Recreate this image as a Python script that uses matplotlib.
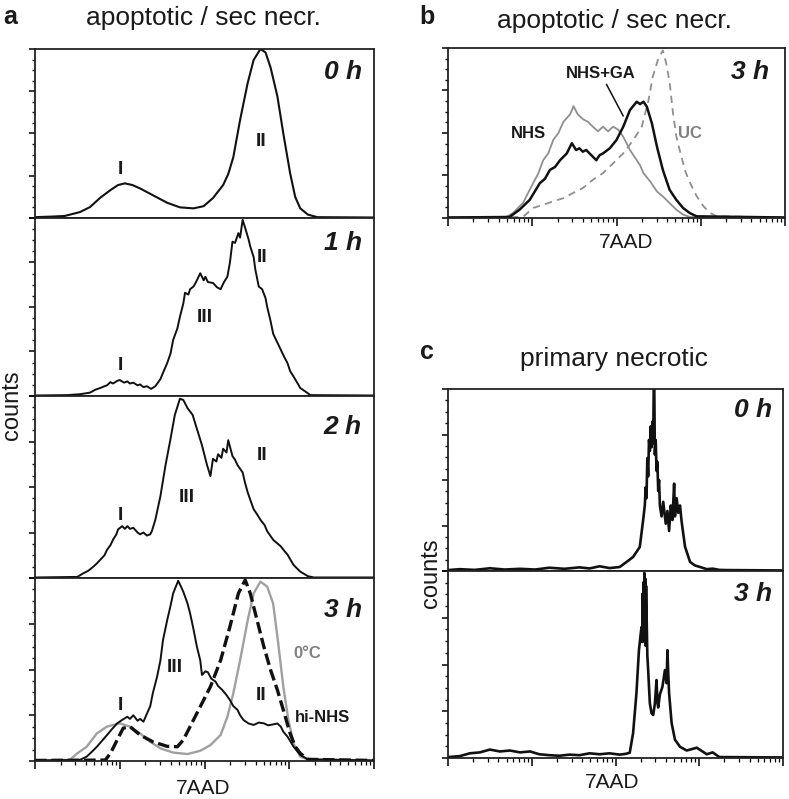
import numpy as np
import matplotlib
matplotlib.use('Agg')
import matplotlib.pyplot as plt
from matplotlib.ticker import MultipleLocator, LogLocator, NullFormatter

plt.rcParams['font.family'] = ['Liberation Sans', 'DejaVu Sans']

# Datos: posición en décadas de 7AAD (log10) y cuentas en % del máximo del panel

# a) apoptotic / sec necr., 0 h
a0_log = [0.00, 0.18, 0.35, 0.53, 0.65, 0.77, 0.89, 0.98, 1.06, 1.15, 1.24, 1.39, 1.56, 1.71,
          1.87, 1.99, 2.10, 2.22, 2.28, 2.34, 2.42, 2.51, 2.58, 2.66, 2.72, 2.78, 2.86, 2.93,
          3.01, 3.07, 3.13, 3.22, 3.33, 4.00]
a0_cnt = [0.5, 0.8, 1.2, 3.5, 6.5, 12, 16.5, 19.5, 20.5, 19.5, 17.5, 13.5, 9, 6.3,
          5.7, 7, 11.8, 19.5, 26, 36, 58, 80, 93.5, 100, 98, 89, 72, 50,
          26.6, 12.5, 5.7, 2, 0.5, 0.3]

# a) 1 h
a1_log = [0.00, 0.38, 0.53, 0.65, 0.71, 0.77, 0.82, 0.85, 0.89, 0.92, 0.97, 1.00, 1.05, 1.09,
          1.12, 1.16, 1.21, 1.24, 1.28, 1.32, 1.37, 1.42, 1.48, 1.51, 1.56, 1.60, 1.63, 1.68,
          1.71, 1.75, 1.77, 1.81, 1.83, 1.87, 1.90, 1.95, 1.99, 2.01, 2.04, 2.10, 2.15, 2.19,
          2.23, 2.27, 2.30, 2.33, 2.36, 2.40, 2.42, 2.45, 2.48, 2.52, 2.54, 2.58, 2.60, 2.64,
          2.68, 2.72, 2.74, 2.78, 2.81, 2.86, 2.90, 2.94, 2.98, 3.01, 3.05, 3.10, 3.13, 3.19,
          3.25, 4.00]
a1_cnt = [0.3, 0.5, 1.0, 1.9, 3.5, 4.5, 5.5, 6.0, 7.8, 7.0, 8.5, 9.0, 7.5, 8.2,
          7.0, 7.5, 6.0, 6.5, 5.0, 5.5, 4.0, 5.5, 9.5, 13, 18.5, 24, 31.5, 38,
          44.5, 52, 58, 57, 60, 61.5, 64, 69, 65, 67, 64, 63.5, 61, 60,
          64, 67, 75, 86.7, 86, 91.5, 89, 99, 94.4, 88, 84, 78, 71, 61.5,
          60, 55, 50, 42, 35, 30, 26, 22, 18.4, 14, 11, 7, 4.5, 2.5,
          0.5, 0.3]

# a) 2 h
a2_log = [0.00, 0.50, 0.57, 0.63, 0.69, 0.73, 0.77, 0.82, 0.85, 0.89, 0.92, 0.96, 0.98, 1.03,
          1.06, 1.09, 1.12, 1.16, 1.21, 1.24, 1.28, 1.32, 1.36, 1.38, 1.42, 1.48, 1.54, 1.60,
          1.65, 1.71, 1.75, 1.80, 1.86, 1.91, 1.97, 2.03, 2.07, 2.10, 2.14, 2.16, 2.20, 2.22,
          2.26, 2.28, 2.33, 2.36, 2.39, 2.42, 2.45, 2.48, 2.51, 2.54, 2.58, 2.62, 2.66, 2.71,
          2.74, 2.78, 2.81, 2.86, 2.90, 2.94, 2.98, 3.05, 3.13, 3.22, 3.29, 4.00]
a2_cnt = [0.3, 0.6, 2.6, 4.0, 6.3, 8.0, 10, 12.5, 15.5, 18, 21, 24, 26.7, 28.5,
          27, 28.5, 27, 27.6, 25, 24, 25, 23.3, 24, 25.9, 32, 45, 62, 76.7,
          89.6, 98.5, 97.8, 93.3, 89.6, 82, 73, 62, 56, 65.5, 64, 68, 66, 71,
          69, 75.7, 67, 65, 62, 60, 58, 52, 47, 43, 37.8, 35, 32, 29,
          25.7, 23, 21, 19, 17.4, 15, 12.8, 7.2, 3.5, 1.0, 0.3, 0.3]

# a) 3 h: NHS (negro), hi-NHS (discontinua), 0°C (gris)
a3_log = [0.00, 0.53, 0.61, 0.67, 0.73, 0.79, 0.85, 0.91, 0.97, 1.03, 1.09, 1.12, 1.16, 1.21,
          1.24, 1.28, 1.32, 1.36, 1.39, 1.44, 1.48, 1.51, 1.56, 1.60, 1.63, 1.69, 1.75, 1.80,
          1.83, 1.87, 1.91, 1.95, 1.97, 2.01, 2.04, 2.08, 2.13, 2.16, 2.21, 2.26, 2.30, 2.34,
          2.39, 2.42, 2.46, 2.52, 2.58, 2.64, 2.70, 2.75, 2.81, 2.86, 2.90, 2.93, 2.98, 3.05,
          3.13, 3.22, 4.00]
a3_cnt = [0.3, 0.6, 2.4, 5, 7.8, 11, 14.2, 17.5, 20.6, 22.5, 24.2, 23, 25, 22,
          23, 21.5, 25.8, 30, 37, 46, 55, 66, 77, 85, 91.6, 98.5, 92.5, 86,
          80.7, 72, 62.5, 55, 47, 49, 48.5, 45, 43.4, 41, 38.8, 36, 33.3, 30,
          27.9, 25, 22.4, 20.5, 19.7, 21, 20.6, 19.5, 20, 20.5, 18.8, 16, 13.3, 7.9,
          3.3, 0.9, 0.3]

hinhs_log = [0.00, 0.83, 0.89, 0.97, 1.04, 1.12, 1.24, 1.39, 1.56, 1.68, 1.75, 1.83, 1.95, 2.07,
             2.19, 2.30, 2.40, 2.48, 2.54, 2.62, 2.70, 2.78, 2.86, 2.93, 3.01, 3.07, 3.13, 3.22,
             4.00]
hinhs_cnt = [0.3, 0.5, 4.2, 11.5, 17.9, 18.8, 14.2, 10.5, 8, 7.8, 11.5, 18.8, 29.7, 40.6,
             55, 73.4, 91.6, 98.9, 91.6, 77, 62.5, 49.7, 38.8, 27.9, 15.1, 7.9, 4.2, 0.9,
             0.3]

cold_log = [0.00, 0.41, 0.50, 0.61, 0.73, 0.85, 1.00, 1.12, 1.24, 1.36, 1.48, 1.63, 1.80, 1.95,
            2.07, 2.19, 2.27, 2.34, 2.42, 2.51, 2.58, 2.66, 2.74, 2.81, 2.87, 2.93, 2.99, 3.05,
            3.13, 3.22, 4.00]
cold_cnt = [0.3, 0.6, 4.2, 7.8, 15.1, 18.8, 20.6, 18.8, 15.1, 10.5, 6.9, 4.6, 3.8, 5.6,
            8.7, 14.2, 24.2, 37, 55, 77, 91.6, 98, 95.3, 86, 64.3, 40.6, 22.4, 9.6,
            2.4, 0.9, 0.3]

# b) apoptotic / sec necr., 3 h: NHS (gris), NHS+GA (negro), UC (gris discontinua)
nhs_log = [0.00, 0.69, 0.77, 0.89, 1.01, 1.07, 1.13, 1.19, 1.25, 1.31, 1.37, 1.45, 1.49, 1.54,
           1.60, 1.66, 1.72, 1.78, 1.84, 1.90, 1.96, 2.02, 2.08, 2.16, 2.24, 2.28, 2.32, 2.40,
           2.48, 2.55, 2.63, 2.71, 2.79, 2.87, 4.00]
nhs_cnt = [0.3, 0.6, 2.9, 8.8, 20.5, 26, 34, 38, 46, 50, 56.6, 61, 65.8, 61,
           58.2, 56.6, 53.7, 51, 53.7, 51, 53.7, 52, 47.8, 40, 34, 31, 26.4, 21.5,
           15.6, 12.7, 8.8, 4.9, 2, 0.6, 0.3]

nhsga_log = [0.00, 0.73, 0.85, 0.97, 1.09, 1.15, 1.21, 1.27, 1.33, 1.41, 1.47, 1.52, 1.56, 1.60,
             1.64, 1.68, 1.72, 1.76, 1.80, 1.84, 1.88, 1.92, 2.00, 2.08, 2.16, 2.24, 2.28, 2.32,
             2.36, 2.42, 2.48, 2.55, 2.63, 2.71, 2.79, 2.87, 2.95, 4.00]
nhsga_cnt = [0.3, 0.6, 4.9, 10.7, 20.5, 23, 28.3, 30, 34, 38, 44, 40, 41, 39,
             40, 38, 36, 34, 37, 38, 39.5, 41, 45.9, 53.7, 63.5, 68.4, 67, 68.4,
             65.5, 55.7, 42, 28.3, 16.6, 10.7, 5.9, 2.9, 1, 0.3]

uc_log = [0.00, 0.89, 1.01, 1.13, 1.25, 1.37, 1.48, 1.60, 1.72, 1.84, 1.96, 2.08, 2.20, 2.30,
          2.38, 2.43, 2.49, 2.55, 2.59, 2.63, 2.67, 2.71, 2.76, 2.82, 2.88, 2.95, 3.03, 3.11,
          3.19, 4.00]
uc_cnt = [0.3, 0.6, 5.9, 7.8, 9.8, 11.7, 14.6, 17.6, 22.5, 26.4, 32.2, 38, 45.9, 53.7,
          69.3, 83, 92.8, 98.6, 91, 80, 62, 48, 38, 27, 20, 13, 7, 3,
          1, 0.3]

# c) primary necrotic, 0 h y 3 h
c0_log = [0.00, 0.14, 0.32, 0.50, 0.68, 0.86, 1.04, 1.21, 1.39, 1.57, 1.69, 1.81, 1.93, 2.05,
          2.13, 2.21, 2.29, 2.33, 2.35, 2.36, 2.37, 2.38, 2.39, 2.40, 2.41, 2.42, 2.43, 2.44,
          2.45, 2.46, 2.47, 2.48, 2.49, 2.50, 2.51, 2.52, 2.53, 2.55, 2.57, 2.60, 2.62, 2.64,
          2.66, 2.68, 2.70, 2.71, 2.73, 2.75, 2.77, 2.79, 2.83, 2.89, 2.95, 3.01, 3.09, 3.16,
          3.24, 3.33, 4.00]
c0_cnt = [0.5, 1.0, 0.6, 1.5, 0.8, 1.2, 0.8, 1.8, 1.2, 2.0, 1.4, 2.6, 1.6, 2.2,
          4.9, 7.7, 13.2, 28, 36, 46, 40, 62, 52, 72, 66, 79.4, 68, 82,
          70, 118, 64, 72, 55, 60, 44, 50, 36, 30, 38, 26, 33, 22,
          36, 28, 48, 30, 40, 32, 36, 27, 13.4, 5, 3, 2.2, 1.0, 1.3,
          0.6, 0.5, 0.3]

c3_log = [0.00, 0.14, 0.26, 0.38, 0.50, 0.62, 0.74, 0.86, 0.98, 1.09, 1.21, 1.33, 1.45, 1.57,
          1.69, 1.81, 1.93, 2.05, 2.12, 2.17, 2.21, 2.25, 2.28, 2.30, 2.31, 2.32, 2.325, 2.33,
          2.335, 2.34, 2.345, 2.35, 2.355, 2.36, 2.365, 2.37, 2.38, 2.39, 2.41, 2.43, 2.45, 2.47,
          2.49, 2.50, 2.51, 2.53, 2.56, 2.59, 2.61, 2.62, 2.63, 2.64, 2.67, 2.71, 2.77, 2.85,
          2.93, 2.97, 3.09, 3.16, 3.24, 4.00]
c3_cnt = [0.5, 1.0, 2.5, 3.0, 4.5, 3.5, 4.0, 3.0, 3.5, 2.0, 1.5, 1.2, 1.8, 1.5,
          2.5, 2.0, 2.5, 1.8, 2.2, 2.8, 13.3, 34.6, 57.7, 66, 70, 62, 88, 64,
          94, 66, 99, 62, 96, 60, 92, 79, 55, 47, 29.3, 24, 23, 29,
          41.7, 30, 27, 34, 38, 47, 40, 57.7, 45, 34.6, 18.7, 9.8, 6, 4,
          5, 5.5, 2, 3, 0.5, 0.3]

W, H = 789, 799
TXT = '#1a1a1a'
GRIS = '#8f8f8f'

fig = plt.figure(figsize=(W / 100, H / 100), dpi=100)


def ejes_px(izq, arriba, der, abajo):
    # Ejes colocados en coordenadas de pixel de la imagen
    return fig.add_axes([izq / W, 1 - abajo / H, (der - izq) / W, (abajo - arriba) / H])


def texto_px(x, y, s, **kw):
    fig.text(x / W, 1 - y / H, s, ha='center', va='center', color=kw.pop('color', TXT), **kw)


def estilo(ax, ticks_x):
    ax.set_xscale('log')
    ax.set_xlim(1, 1e4)
    ax.set_ylim(0, 100)
    for sp in ax.spines.values():
        sp.set_linewidth(1.3)
        sp.set_color('#222222')
    ax.yaxis.set_major_locator(MultipleLocator(25))
    ax.yaxis.set_minor_locator(MultipleLocator(6.25))
    ax.tick_params(axis='y', which='major', direction='out', length=4.5, width=1.1, labelleft=False)
    ax.tick_params(axis='y', which='minor', direction='out', length=2.5, width=1.0)
    if ticks_x:
        ax.xaxis.set_major_locator(LogLocator(base=10, numticks=10))
        ax.xaxis.set_minor_locator(LogLocator(base=10, subs=np.arange(2, 10), numticks=10))
        ax.xaxis.set_minor_formatter(NullFormatter())
        ax.tick_params(axis='x', which='major', direction='out', length=5.5, width=1.1, labelbottom=False)
        ax.tick_params(axis='x', which='minor', direction='out', length=3, width=0.9)
    else:
        ax.tick_params(axis='x', which='both', bottom=False, labelbottom=False)


def x(v):
    return 10 ** np.array(v)


# ---- Panel a ----
filas_a = [(49, 218), (218, 396), (396, 578), (578, 761)]
axs_a = []
for i, (t, b) in enumerate(filas_a):
    ax = ejes_px(35, t, 374, b)
    estilo(ax, i == 3)
    axs_a.append(ax)

axs_a[0].plot(x(a0_log), a0_cnt, color='#111111', lw=1.5)
axs_a[1].plot(x(a1_log), a1_cnt, color='#111111', lw=1.4)
axs_a[2].plot(x(a2_log), a2_cnt, color='#111111', lw=1.4)
axs_a[3].plot(x(cold_log), cold_cnt, color='#a0a0a0', lw=1.7)
axs_a[3].plot(x(hinhs_log), hinhs_cnt, color='#111111', lw=2.4, dashes=(3.5, 1.4))
axs_a[3].plot(x(a3_log), a3_cnt, color='#111111', lw=1.4)

# ---- Panel b ----
ax_b = ejes_px(448, 48, 785, 218)
estilo(ax_b, True)
ax_b.plot(x(uc_log), uc_cnt, color=GRIS, lw=1.3, dashes=(4, 3))
ax_b.plot(x(nhs_log), nhs_cnt, color=GRIS, lw=1.3)
ax_b.plot(x(nhsga_log), nhsga_cnt, color='#111111', lw=1.8)
ax_b.annotate('NHS+GA', xy=(10 ** 2.08, 60), xytext=(601, H - 74), textcoords='figure pixels',
              ha='center', va='center', fontsize=12, fontweight='bold', color=TXT,
              arrowprops=dict(arrowstyle='-', color='#111111', lw=1.1, shrinkA=0, shrinkB=0))

# ---- Panel c ----
ax_c0 = ejes_px(448, 389, 783, 571)
ax_c3 = ejes_px(448, 571, 783, 758)
estilo(ax_c0, False)
estilo(ax_c3, True)
ax_c0.plot(x(c0_log), c0_cnt, color='#111111', lw=1.9)
ax_c3.plot(x(c3_log), c3_cnt, color='#111111', lw=1.9)

# ---- Textos ----
texto_px(10, 17, 'a', fontsize=18, fontweight='bold')
texto_px(427, 17, 'b', fontsize=18, fontweight='bold')
texto_px(427, 352, 'c', fontsize=18, fontweight='bold')
texto_px(203, 18, 'apoptotic / sec necr.', fontsize=19)
texto_px(614, 21, 'apoptotic / sec necr.', fontsize=19)
texto_px(614, 359, 'primary necrotic', fontsize=19)
texto_px(12, 405, 'counts', fontsize=17, rotation=90)
texto_px(431, 573, 'counts', fontsize=17, rotation=90)
texto_px(203, 788, '7AAD', fontsize=15)
texto_px(626, 243, '7AAD', fontsize=15)
texto_px(612, 783, '7AAD', fontsize=15)

hora = dict(fontsize=19, fontweight='bold', fontstyle='italic', ha='right')
for y, s in [(72, '0 h'), (243, '1 h'), (427, '2 h'), (610, '3 h')]:
    fig.text(362 / W, 1 - y / H, s, va='center', color=TXT, **hora)
fig.text(769 / W, 1 - 72 / H, '3 h', va='center', color=TXT, **hora)
fig.text(772 / W, 1 - 410 / H, '0 h', va='center', color=TXT, **hora)
fig.text(772 / W, 1 - 594 / H, '3 h', va='center', color=TXT, **hora)

romano = dict(fontsize=14, fontweight='bold')
for px, py, s in [(120, 170, 'I'), (261, 141, 'II'),
                  (120, 365, 'I'), (205, 318, 'III'), (262, 257, 'II'),
                  (120, 516, 'I'), (187, 497, 'III'), (262, 455, 'II'),
                  (120, 705, 'I'), (175, 667, 'III'), (261, 696, 'II')]:
    texto_px(px, py, s, **romano)

texto_px(307, 654, '0°C', fontsize=12, fontweight='bold', color='#808080')
texto_px(322, 717, 'hi-NHS', fontsize=12, fontweight='bold')
texto_px(528, 134, 'NHS', fontsize=12, fontweight='bold')
texto_px(690, 134, 'UC', fontsize=12, fontweight='bold', color='#808080')

fig.savefig('out.png', dpi=100)
